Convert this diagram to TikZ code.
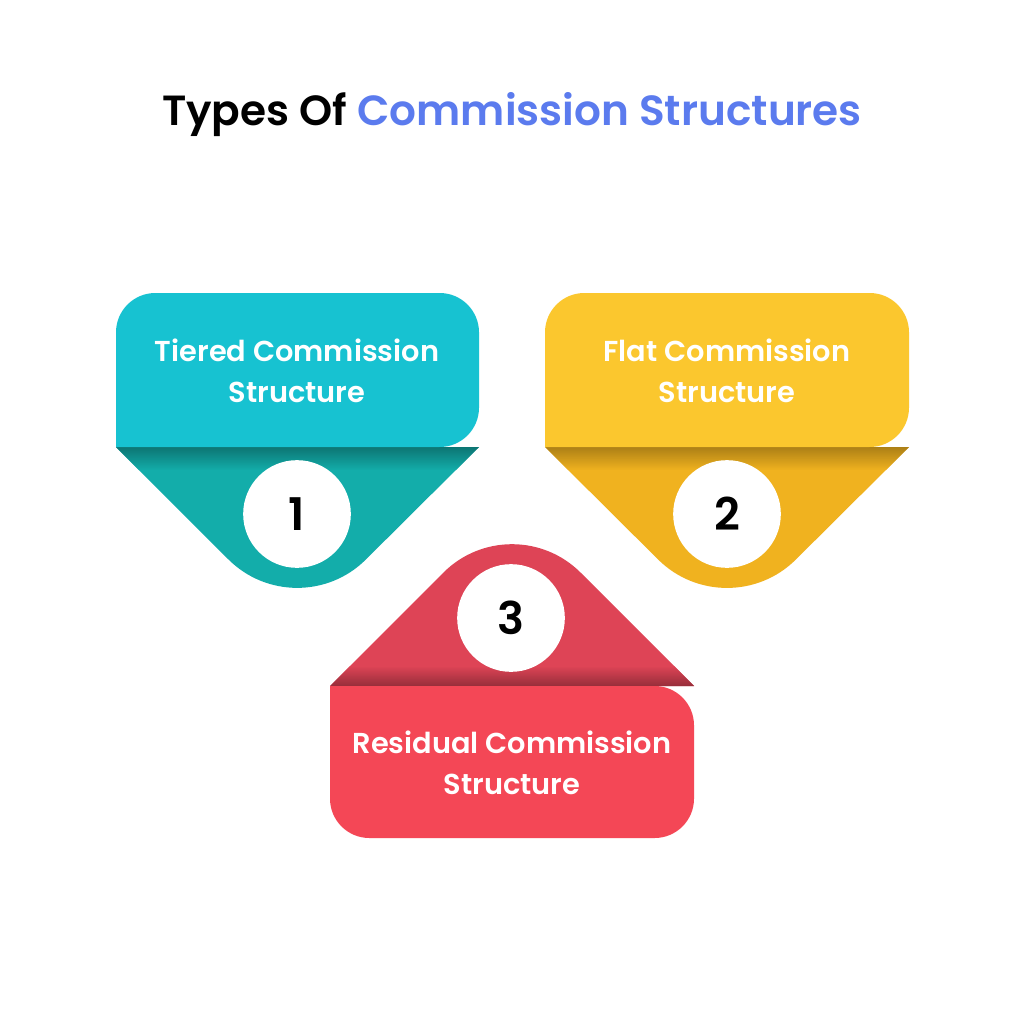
\documentclass[tikz,border=0pt]{standalone}
\usepackage{fontspec}
\setmainfont{Poppins}[BoldFont={Poppins SemiBold}]
\usetikzlibrary{positioning}
\definecolor{titleblue}{HTML}{5B7BEE}
\definecolor{cyantop}{HTML}{17C2D1}
\definecolor{cyanbot}{HTML}{13ADAA}
\definecolor{yeltop}{HTML}{FBC72E}
\definecolor{yelbot}{HTML}{F0B21F}
\definecolor{redtop}{HTML}{DE4456}
\definecolor{redbot}{HTML}{F44756}
\tikzstyle{label} = [text=white, align=center, font=\fontsize{20.5}{29}\selectfont\bfseries]
\tikzstyle{num} = [circle, fill=white, minimum size=108*0.709pt, inner sep=0pt, font=\fontsize{32}{32}\selectfont\bfseries]
\begin{document}
\begin{tikzpicture}[x=0.025cm, y=-0.025cm]
\useasboundingbox (0,0) rectangle (1024,1024);
\fill[white] (0,0) rectangle (1024,1024);

%title
\node (title) at (512,115) {\fontsize{30}{36}\selectfont\bfseries Types Of \textcolor{titleblue}{Commission Structures}};

%card 1
\fill[cyanbot] (116,447) [rounded corners=69pt] -- (297,628) [sharp corners] -- (479,447) -- cycle;
\shade[top color=black!40!cyanbot, bottom color=cyanbot, opacity=0.8] (116,447) -- (479,447) -- (456,470) -- (139,470) -- cycle;
\fill[cyantop, rounded corners=28pt] (116,447) -- (116,293) -- (479,293) -- (479,447) [sharp corners] -- cycle;
\node (t1) [label] at (297,371) {Tiered Commission\\Structure};
\node (n1) [num] at (297,514) {1};

%card 2
\fill[yelbot] (545,447) [rounded corners=69pt] -- (727,628) [sharp corners] -- (909,447) -- cycle;
\shade[top color=black!35!yelbot, bottom color=yelbot, opacity=0.8] (545,447) -- (909,447) -- (886,470) -- (568,470) -- cycle;
\fill[yeltop, rounded corners=28pt] (545,447) -- (545,293) -- (909,293) -- (909,447) [sharp corners] -- cycle;
\node (t2) [label] at (727,371) {Flat Commission\\Structure};
\node (n2) [num] at (727,514) {2};

%card 3
\fill[redtop] (330,686) [rounded corners=69pt] -- (512,504) [sharp corners] -- (694,686) -- cycle;
\shade[top color=redtop, bottom color=black!40!redtop, opacity=0.8] (350,666) -- (674,666) -- (694,686) -- (330,686) -- cycle;
\fill[redbot, rounded corners=28pt] (330,686) -- (330,838) -- (694,838) -- (694,686) [sharp corners] -- cycle;
\node (t3) [label] at (512,763) {Residual Commission\\Structure};
\node (n3) [num] at (511,618) {3};
\end{tikzpicture}
\end{document}
